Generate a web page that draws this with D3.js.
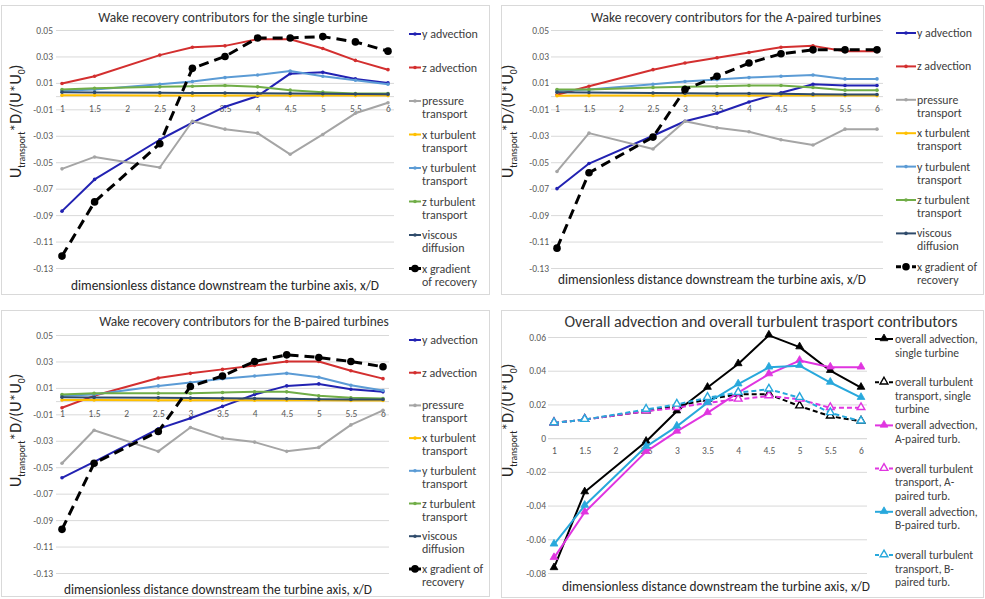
<!DOCTYPE html>
<html>
<head>
<meta charset="utf-8">
<script src="https://cdn.jsdelivr.net/npm/d3@7"></script>
<style>
  body { margin: 0; background: #fff; }
  svg { font-family: Calibri, Carlito, Lato, sans-serif; }
</style>
</head>
<body>
<div id="chart"></div>
<script>
// x positions that carry data (no value at x/D = 2)
var xSteps = [1, 1.5, 2.5, 3, 3.5, 4, 4.5, 5, 5.5, 6];
var xTicks = [1, 1.5, 2, 2.5, 3, 3.5, 4, 4.5, 5, 5.5, 6];
var contribTicks = [0.05, 0.03, 0.01, -0.01, -0.03, -0.05, -0.07, -0.09, -0.11, -0.13];
var overallTicks = [0.06, 0.04, 0.02, 0, -0.02, -0.04, -0.06, -0.08];

var contribNames = [
  ['y advection'], ['z advection'], ['pressure', 'transport'], ['x turbulent', 'transport'],
  ['y turbulent', 'transport'], ['z turbulent', 'transport'], ['viscous', 'diffusion'], ['x gradient', 'of recovery']
];
var contribNamesPaired = [
  ['y advection'], ['z advection'], ['pressure', 'transport'], ['x turbulent', 'transport'],
  ['y turbulent', 'transport'], ['z turbulent', 'transport'], ['viscous', 'diffusion'], ['x gradient of', 'recovery']
];
var overallNames = [
  ['overall advection,', 'single turbine'], ['overall turbulent', 'transport, single', 'turbine'],
  ['overall advection,', 'A-paired turb.'], ['overall turbulent', 'transport, A-', 'paired turb.'],
  ['overall advection,', 'B-paired turb.'], ['overall turbulent', 'transport, B-', 'paired turb.']
];

// single turbine
var singleYAdv     = [-0.087, -0.063, -0.033, -0.020, -0.008, 0.000, 0.017, 0.018, 0.013, 0.010];
var singleZAdv     = [0.0095, 0.015, 0.031, 0.037, 0.038, 0.043, 0.043, 0.036, 0.027, 0.020];
var singlePressure = [-0.055, -0.046, -0.054, -0.019, -0.025, -0.028, -0.044, -0.029, -0.013, -0.005];
var singleXTurb    = [0.0006, 0.0006, 0.0005, 0.0005, 0.0005, 0.0005, 0.0004, 0.0004, 0.0004, 0.0004];
var singleYTurb    = [0.004, 0.005, 0.009, 0.011, 0.014, 0.016, 0.019, 0.015, 0.012, 0.009];
var singleZTurb    = [0.005, 0.006, 0.007, 0.0075, 0.008, 0.007, 0.0045, 0.003, 0.002, 0.002];
var singleViscous  = [0.003, 0.0028, 0.0025, 0.0024, 0.0023, 0.0022, 0.002, 0.0018, 0.0016, 0.0015];
var singleXGrad    = [-0.121, -0.080, -0.036, 0.021, 0.030, 0.044, 0.044, 0.045, 0.041, 0.034];

// A-paired turbines
var aPairYAdv     = [-0.070, -0.051, -0.030, -0.019, -0.013, -0.0045, 0.0025, 0.009, 0.008, 0.008];
var aPairZAdv     = [0.001, 0.0075, 0.020, 0.025, 0.029, 0.033, 0.037, 0.038, 0.034, 0.034];
var aPairPressure = [-0.057, -0.028, -0.040, -0.019, -0.024, -0.027, -0.033, -0.037, -0.025, -0.025];
var aPairXTurb    = [0.0003, 0.0004, 0.0005, 0.0005, 0.0005, 0.0005, 0.0005, 0.0005, 0.0004, 0.0004];
var aPairYTurb    = [0.004, 0.005, 0.009, 0.011, 0.0125, 0.014, 0.015, 0.016, 0.013, 0.013];
var aPairZTurb    = [0.005, 0.005, 0.0065, 0.007, 0.0075, 0.008, 0.008, 0.0065, 0.0045, 0.0045];
var aPairViscous  = [0.003, 0.0027, 0.0023, 0.0022, 0.002, 0.002, 0.0018, 0.0015, 0.0012, 0.0012];
var aPairXGrad    = [-0.115, -0.058, -0.031, 0.005, 0.015, 0.025, 0.032, 0.035, 0.035, 0.035];

// B-paired turbines
var bPairYAdv     = [-0.058, -0.046, -0.021, -0.013, -0.004, 0.005, 0.0115, 0.013, 0.009, 0.007];
var bPairZAdv     = [-0.005, 0.004, 0.0175, 0.021, 0.024, 0.027, 0.030, 0.030, 0.023, 0.017];
var bPairPressure = [-0.047, -0.022, -0.038, -0.020, -0.028, -0.031, -0.038, -0.035, -0.018, -0.007];
var bPairXTurb    = [0.0008, 0.0008, 0.0007, 0.0007, 0.0007, 0.0006, 0.0006, 0.0006, 0.0005, 0.0005];
var bPairYTurb    = [0.004, 0.005, 0.0115, 0.014, 0.017, 0.019, 0.021, 0.018, 0.012, 0.008];
var bPairZTurb    = [0.005, 0.006, 0.006, 0.006, 0.0065, 0.007, 0.007, 0.004, 0.0025, 0.002];
var bPairViscous  = [0.003, 0.0028, 0.0025, 0.0023, 0.0021, 0.002, 0.0018, 0.0015, 0.0013, 0.0012];
var bPairXGrad    = [-0.097, -0.047, -0.023, 0.011, 0.019, 0.030, 0.035, 0.033, 0.030, 0.026];

// overall contributors
var overallAdvSingle  = [-0.077, -0.032, -0.002, 0.016, 0.030, 0.044, 0.061, 0.054, 0.040, 0.030];
var overallTurbSingle = [0.009, 0.011, 0.016, 0.019, 0.023, 0.026, 0.026, 0.019, 0.013, 0.010];
var overallAdvA       = [-0.071, -0.044, -0.008, 0.004, 0.015, 0.027, 0.038, 0.046, 0.042, 0.042];
var overallTurbA      = [0.009, 0.011, 0.016, 0.018, 0.021, 0.023, 0.025, 0.023, 0.018, 0.018];
var overallAdvB       = [-0.063, -0.040, -0.005, 0.007, 0.021, 0.032, 0.042, 0.043, 0.033, 0.024];
var overallTurbB      = [0.009, 0.011, 0.017, 0.020, 0.024, 0.027, 0.029, 0.024, 0.015, 0.010];

var contribColors = ['#2222b2', '#d32f2f', '#a5a5a5', '#ffc000', '#5b9bd5', '#70ad47', '#2f4b6b', '#000000'];
var overallColors = ['#000000', '#000000', '#e035e0', '#e035e0', '#28a8dc', '#28a8dc'];

var fmtLocale = d3.formatLocale({ decimal: '.', thousands: ',', grouping: [3], currency: ['', ''], minus: '-' });
var yFormat = function (d) { return d === 0 ? '0' : fmtLocale.format('.2f')(d); };

var svg = d3.select('#chart').append('svg')
  .attr('width', 985)
  .attr('height', 599);

var contribSeries = function (values, names) {
  return values.map(function (v, i) {
    var last = i === values.length - 1;
    return {
      values: v,
      label: names[i],
      color: contribColors[i],
      width: last ? 3 : 2,
      dash: last ? '10,6' : null,
      legendDash: last ? '5,3' : null,
      marker: 'circle',
      r: last ? 3.8 : 1.8,
      hollow: false
    };
  });
};

var overallSeries = [overallAdvSingle, overallTurbSingle, overallAdvA, overallTurbA, overallAdvB, overallTurbB]
  .map(function (v, i) {
    var dashed = i % 2 === 1;
    return {
      values: v,
      label: overallNames[i],
      color: overallColors[i],
      width: 2,
      dash: dashed ? '5,3' : null,
      legendDash: dashed ? '4,3' : null,
      marker: 'triangle',
      r: 26,
      hollow: dashed
    };
  });

var panels = [
  {
    box: [1, 5, 488, 289],
    xRange: [62, 388], yRange: [268, 30], yDomain: [-0.13, 0.05], yTicks: contribTicks,
    title: 'Wake recovery contributors for the single turbine', titlePos: [233, 21.5], titleSize: 13.5,
    yLabelX: 53, yTitlePos: [21, 178], xTitlePos: [225, 290],
    series: contribSeries([singleYAdv, singleZAdv, singlePressure, singleXTurb, singleYTurb, singleZTurb, singleViscous, singleXGrad], contribNames),
    legend: { x0: 409, x1: 421, tx: 422, y0: 34, step: 33.5, lineH: 13, size: 12 }
  },
  {
    box: [501, 5, 482, 289],
    xRange: [557, 877], yRange: [268, 30], yDomain: [-0.13, 0.05], yTicks: contribTicks,
    title: 'Wake recovery contributors for the A-paired turbines', titlePos: [736, 21.5], titleSize: 13.5,
    yLabelX: 549, yTitlePos: [513, 178], xTitlePos: [712, 284],
    series: contribSeries([aPairYAdv, aPairZAdv, aPairPressure, aPairXTurb, aPairYTurb, aPairZTurb, aPairViscous, aPairXGrad], contribNamesPaired),
    legend: { x0: 896, x1: 916, tx: 917, y0: 33, step: 33.4, lineH: 13, size: 11.8 }
  },
  {
    box: [1, 310, 488, 286],
    xRange: [62, 383], yRange: [573, 335], yDomain: [-0.13, 0.05], yTicks: contribTicks,
    title: 'Wake recovery contributors for the B-paired turbines', titlePos: [244, 326], titleSize: 13.5,
    yLabelX: 53, yTitlePos: [21, 487], xTitlePos: [218, 594],
    series: contribSeries([bPairYAdv, bPairZAdv, bPairPressure, bPairXTurb, bPairYTurb, bPairZTurb, bPairViscous, bPairXGrad], contribNamesPaired),
    legend: { x0: 409, x1: 421, tx: 422, y0: 340, step: 32.7, lineH: 13, size: 12 }
  },
  {
    box: [501, 310, 482, 287],
    xRange: [554, 861], yRange: [573, 337], yDomain: [-0.08, 0.06], yTicks: overallTicks,
    title: 'Overall advection and overall turbulent trasport contributors', titlePos: [761, 326.5], titleSize: 16,
    yLabelX: 546, yTitlePos: [513, 477], xTitlePos: [716, 591],
    series: overallSeries,
    legend: { x0: 875, x1: 893, tx: 895, y0: 339, step: 43.2, lineH: 13.5, size: 11.5 }
  }
];

var drawMarker = function (sel, s, cx, cy, r) {
  if (s.marker === 'circle') {
    sel.append('circle')
      .attr('cx', cx).attr('cy', cy).attr('r', r)
      .attr('fill', s.color);
  } else {
    sel.append('path')
      .attr('d', d3.symbol(d3.symbolTriangle, r)())
      .attr('transform', 'translate(' + cx + ',' + (cy - 0.5) + ')')
      .attr('fill', s.hollow ? '#ffffff' : s.color)
      .attr('stroke', s.color)
      .attr('stroke-width', s.hollow ? 1.4 : 0.8);
  }
};

var drawPanel = function (p) {
  var g = svg.append('g');

  g.append('rect')
    .attr('x', p.box[0] + 0.5).attr('y', p.box[1] + 0.5)
    .attr('width', p.box[2]).attr('height', p.box[3])
    .attr('fill', '#ffffff').attr('stroke', '#d9d9d9');

  var x = d3.scaleLinear().domain([1, 6]).range(p.xRange);
  var y = d3.scaleLinear().domain(p.yDomain).range(p.yRange);
  var gx0 = p.xRange[0] - 6;
  var gx1 = p.xRange[1] + 6;

  g.append('g')
    .attr('transform', 'translate(' + gx0 + ',0)')
    .call(d3.axisLeft(y).tickValues(p.yTicks).tickSize(-(gx1 - gx0)).tickFormat(''))
    .call(function (a) {
      a.select('.domain').remove();
      a.selectAll('line').attr('stroke', '#d9d9d9');
    });

  g.append('g')
    .attr('transform', 'translate(' + p.yLabelX + ',0)')
    .call(d3.axisLeft(y).tickValues(p.yTicks).tickSize(0).tickPadding(0).tickFormat(yFormat))
    .call(function (a) {
      a.select('.domain').remove();
      a.attr('font-family', null).attr('font-size', null);
      a.selectAll('text').attr('fill', '#595959').style('font-size', '9.5px');
    });

  g.append('g')
    .attr('transform', 'translate(0,' + y(0) + ')')
    .call(d3.axisBottom(x).tickValues(xTicks).tickSize(0).tickPadding(9).tickFormat(d3.format('')))
    .call(function (a) {
      a.select('.domain').attr('stroke', '#d9d9d9').attr('d', 'M' + gx0 + ',0.5H' + gx1);
      a.attr('font-family', null).attr('font-size', null);
      a.selectAll('text').attr('fill', '#595959').style('font-size', '9.5px');
    });

  var line = d3.line()
    .x(function (d) { return x(d.x); })
    .y(function (d) { return y(d.v); });

  p.series.forEach(function (s) {
    var pts = xSteps.map(function (xv, i) { return { x: xv, v: s.values[i] }; });
    g.append('path')
      .datum(pts)
      .attr('d', line)
      .attr('fill', 'none')
      .attr('stroke', s.color)
      .attr('stroke-width', s.width)
      .attr('stroke-dasharray', s.dash)
      .attr('stroke-linejoin', 'round');
    var mk = g.append('g');
    pts.forEach(function (d) { drawMarker(mk, s, x(d.x), y(d.v), s.r); });
  });

  // titles
  g.append('text')
    .attr('x', p.titlePos[0]).attr('y', p.titlePos[1])
    .attr('text-anchor', 'middle')
    .attr('fill', '#333333')
    .style('font-size', p.titleSize + 'px')
    .text(p.title);

  g.append('text')
    .attr('x', p.xTitlePos[0]).attr('y', p.xTitlePos[1])
    .attr('text-anchor', 'middle')
    .attr('fill', '#262626')
    .style('font-size', '13.3px')
    .text('dimensionless distance downstream the turbine axis, x/D');

  var yt = g.append('text')
    .attr('transform', 'translate(' + p.yTitlePos[0] + ',' + p.yTitlePos[1] + ') rotate(-90)')
    .attr('fill', '#262626')
    .style('font-size', '16px');
  yt.append('tspan').text('U');
  yt.append('tspan').text('transport').style('font-size', '9.5px').attr('dy', 3.5);
  yt.append('tspan').text('*D/(U*U').attr('dy', -3.5);
  yt.append('tspan').text('0').style('font-size', '9.5px').attr('dy', 3.5);
  yt.append('tspan').text(')').attr('dy', -3.5);

  // legend
  var lg = p.legend;
  p.series.forEach(function (s, i) {
    var ly = lg.y0 + i * lg.step;
    var item = g.append('g');
    item.append('line')
      .attr('x1', lg.x0).attr('x2', lg.x1)
      .attr('y1', ly).attr('y2', ly)
      .attr('stroke', s.color)
      .attr('stroke-width', s.width)
      .attr('stroke-dasharray', s.legendDash);
    drawMarker(item, s, (lg.x0 + lg.x1) / 2, ly, s.r);
    var txt = item.append('text')
      .attr('fill', '#404040')
      .style('font-size', lg.size + 'px');
    s.label.forEach(function (l, j) {
      txt.append('tspan')
        .attr('x', lg.tx)
        .attr('y', ly + 4 + j * lg.lineH)
        .text(l);
    });
  });
};

for (var i = 0; i < panels.length; i++) {
  drawPanel(panels[i]);
}
</script>
</body>
</html>
